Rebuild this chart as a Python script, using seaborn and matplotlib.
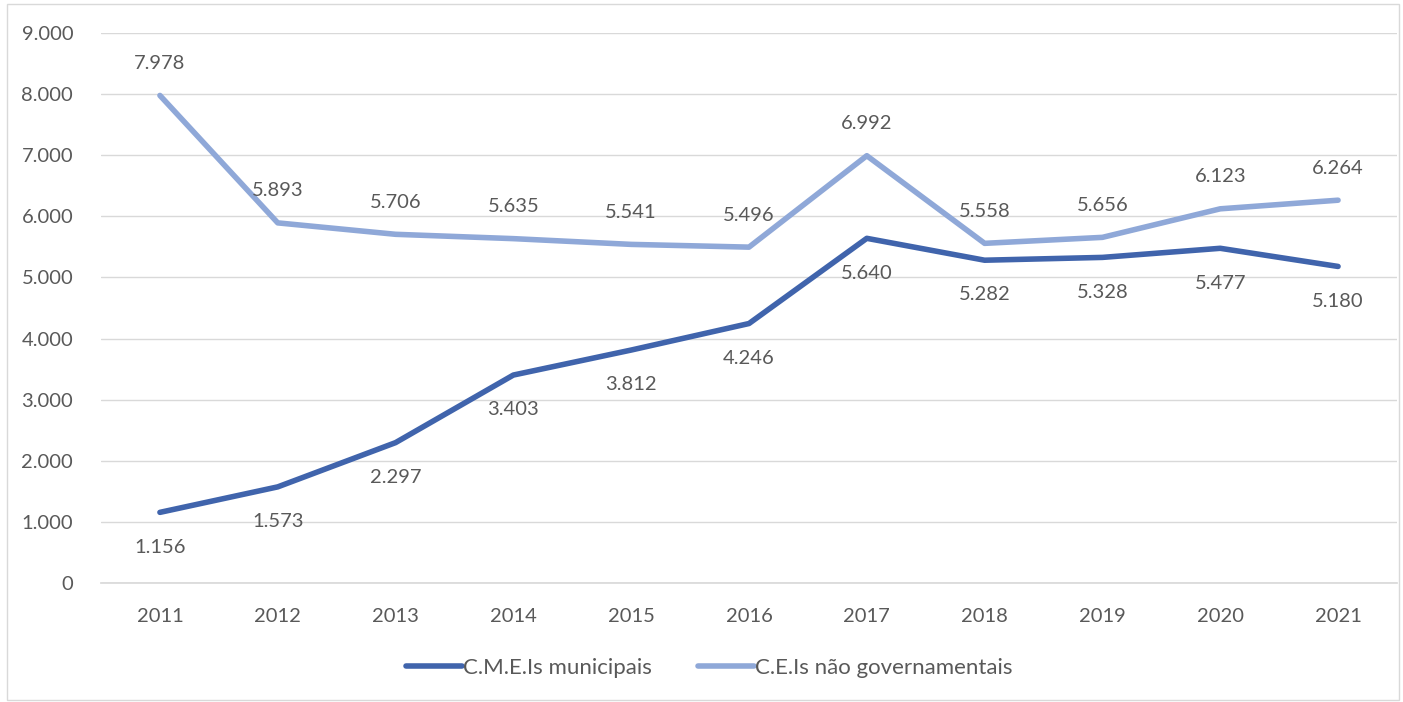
import matplotlib
matplotlib.use("Agg")
import matplotlib.pyplot as plt
import seaborn as sns
import pandas as pd
from matplotlib.patches import Rectangle

# ==============================
# Data
# ==============================
years = [2011, 2012, 2013, 2014, 2015, 2016, 2017, 2018, 2019, 2020, 2021]
cme_municipais = [1156, 1573, 2297, 3403, 3812, 4246, 5640, 5282, 5328, 5477, 5180]
cei_nao_gov = [7978, 5893, 5706, 5635, 5541, 5496, 6992, 5558, 5656, 6123, 6264]
series_names = ["C.M.E.Is municipais", "C.E.Is não governamentais"]
colors = ["#4064AC", "#8FA8D8"]

df = pd.DataFrame({
    "ano": [str(y) for y in years] * 2,
    "valor": cme_municipais + cei_nao_gov,
    "serie": [series_names[0]] * len(years) + [series_names[1]] * len(years),
})

sns.set_theme(style="white")
plt.rcParams["font.family"] = ["Lato", "DejaVu Sans"]
text_color = "#595959"
fs = 14.5

fig = plt.figure(figsize=(14.03, 7.02), dpi=100)
ax = fig.add_axes([0.072, 0.1695, 0.9237, 0.7835])

sns.lineplot(data=df, x="ano", y="valor", hue="serie", palette=colors,
             linewidth=4, ax=ax, sort=False, solid_capstyle="round")

ax.set_xlim(-0.5, len(years) - 0.5)
ax.set_ylim(0, 9000)
ax.set_yticks(range(0, 9001, 1000))
ax.set_yticklabels([f"{v:,}".replace(",", ".") for v in range(0, 9001, 1000)])
ax.grid(axis="y", color="#D9D9D9", linewidth=1)
ax.set_axisbelow(True)
for s in ["top", "right", "left"]:
    ax.spines[s].set_visible(False)
ax.spines["bottom"].set_color("#D9D9D9")
ax.tick_params(axis="both", colors=text_color, labelsize=fs, length=0)
ax.tick_params(axis="x", pad=18)
ax.tick_params(axis="y", pad=20)
ax.set_xlabel("")
ax.set_ylabel("")

def fmt(v):
    return f"{v:,}".replace(",", ".")

for i, v in enumerate(cme_municipais):
    ax.annotate(fmt(v), (i, v), xytext=(0, -25), textcoords="offset points",
                ha="center", va="center", fontsize=fs, color=text_color)
for i, v in enumerate(cei_nao_gov):
    ax.annotate(fmt(v), (i, v), xytext=(0, 23), textcoords="offset points",
                ha="center", va="center", fontsize=fs, color=text_color)

leg = ax.legend(loc="center", bbox_to_anchor=(0.4695, -0.1545), ncol=2, frameon=False,
                fontsize=16, handlelength=2.5, handletextpad=0.05, columnspacing=2.1)
for t in leg.get_texts():
    t.set_color(text_color)

fig.patches.append(Rectangle((0.005, 0.003), 0.992, 0.991, transform=fig.transFigure,
                             fill=False, edgecolor="#D9D9D9", linewidth=1))

fig.savefig("out.png", dpi=100)
